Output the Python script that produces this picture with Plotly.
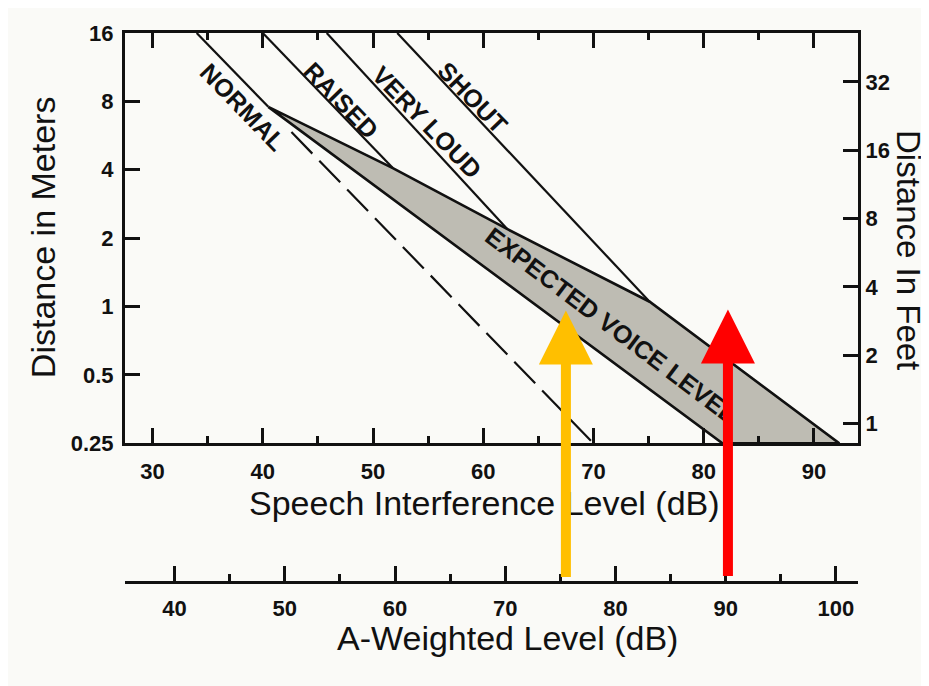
import math
import plotly.graph_objects as go

# ---------------- data ----------------
sil_ticks = [30, 40, 50, 60, 70, 80, 90]
sil_minor = [35, 45, 55, 65, 75, 85]
a_ticks = [40, 50, 60, 70, 80, 90, 100]
a_minor = [45, 55, 65, 75, 85, 95]
meter_ticks = [0.25, 0.5, 1, 2, 4, 8, 16]
meter_labels = ["0.25", "0.5", "1", "2", "4", "8", "16"]
feet_ticks = [1, 2, 4, 8, 16, 32]

effort_names = ["NORMAL", "RAISED", "VERY LOUD", "SHOUT"]
effort_sil_top = [34.0, 40.0, 45.8, 52.2]      # SIL where line leaves 16 m
effort_sil_end = [40.5, 51.8, 62.2, 75.1]      # SIL where line meets the band
effort_dist_end = [7.57, 4.07, 2.19, 1.05]     # distance (m) where line meets band
effort_label_sil = [38.2, 47.1, 54.9, 59.1]
effort_label_dist = [7.55, 8.1, 6.5, 8.3]

normal_dash_sil = [42.6, 70.0]
normal_dash_dist = [5.86, 0.25]

band_sil = [40.5, 51.8, 62.2, 75.1, 92.3, 81.7, 40.5]
band_dist = [7.57, 4.07, 2.19, 1.05, 0.25, 0.25, 7.57]
band_label = "EXPECTED VOICE LEVEL"
band_label_sil = 71.6
band_label_dist = 0.83

arrow_a_level = [75.5, 90.2]
arrow_tip_dist = [0.96, 0.97]
arrow_colors = ["#FFBF00", "#FF0000"]

A_MINUS_SIL = 8.0
SIL_RANGE = [27.5, 94.0]
DIST_RANGE = [0.25, 16.0]
M_PER_FT = 0.3048

# ---------------- styling ----------------
FONT = "Liberation Sans, Arial, Helvetica, sans-serif"
BG = "#FAFAF7"
BAND_FILL = "#BEBCB3"
INK = "#111111"

fig = go.Figure()

# expected voice level band
fig.add_trace(go.Scatter(
    x=band_sil, y=band_dist, mode="lines", fill="toself",
    fillcolor=BAND_FILL, line=dict(color=INK, width=2.6),
    hoverinfo="skip", showlegend=False))

# vocal effort lines
for s0, s1, d1 in zip(effort_sil_top, effort_sil_end, effort_dist_end):
    fig.add_trace(go.Scatter(
        x=[s0, s1], y=[DIST_RANGE[1], d1], mode="lines",
        line=dict(color=INK, width=2.2), hoverinfo="skip", showlegend=False))

# dashed continuation of NORMAL
fig.add_trace(go.Scatter(
    x=normal_dash_sil, y=normal_dash_dist, mode="lines",
    line=dict(color=INK, width=2.2, dash="30px,10px"),
    hoverinfo="skip", showlegend=False))

# helper traces so the secondary axes are drawn
fig.add_trace(go.Scatter(
    x=arrow_a_level, y=arrow_tip_dist, xaxis="x2", yaxis="y", mode="markers",
    marker=dict(opacity=0), hoverinfo="skip", showlegend=False))
fig.add_trace(go.Scatter(
    x=[SIL_RANGE[0]], y=[feet_ticks[0]], xaxis="x", yaxis="y2", mode="markers",
    marker=dict(opacity=0), hoverinfo="skip", showlegend=False))

annotations = []
# effort labels
for name, s, d in zip(effort_names, effort_label_sil, effort_label_dist):
    annotations.append(dict(
        x=s, y=math.log10(d), xref="x", yref="y", text=name, showarrow=False,
        textangle=46, font=dict(family=FONT, size=25, color=INK, weight="bold"),
        xanchor="center", yanchor="middle"))
# band label
annotations.append(dict(
    x=band_label_sil, y=math.log10(band_label_dist), xref="x", yref="y",
    text=band_label, showarrow=False, textangle=37,
    font=dict(family=FONT, size=25, color=INK, weight="bold"),
    xanchor="center", yanchor="middle"))

# axis titles
title_font = dict(family=FONT, size=34, color=INK)
annotations += [
    dict(x=-0.112, y=0.628, xref="paper", yref="paper", text="Distance in Meters",
         textangle=-90, showarrow=False, font=title_font, xanchor="center", yanchor="middle"),
    dict(x=1.068, y=0.605, xref="paper", yref="paper", text="Distance In Feet",
         textangle=90, showarrow=False, font=dict(family=FONT, size=33, color=INK),
         xanchor="center", yanchor="middle"),
    dict(x=0.491, y=0.144, xref="paper", yref="paper", text="Speech Interference Level (dB)",
         showarrow=False, font=title_font, xanchor="center", yanchor="middle"),
    dict(x=0.522, y=-0.102, xref="paper", yref="paper", text="A-Weighted Level (dB)",
         showarrow=False, font=title_font, xanchor="center", yanchor="middle"),
]

# arrows (drawn last, on top)
for a, d, c in zip(arrow_a_level, arrow_tip_dist, arrow_colors):
    annotations.append(dict(
        x=a, y=math.log10(d), xref="x2", yref="y", ax=a, axref="x2",
        ay=268, ayref="pixel", text="", showarrow=True, arrowhead=2,
        arrowwidth=10, arrowsize=1.08, arrowcolor=c, standoff=0))

tick_font = dict(family=FONT, size=22, color=INK, weight="bold")
axis_common = dict(showgrid=False, zeroline=False, showline=True, linewidth=3,
                   linecolor=INK, ticks="inside", ticklen=15, tickwidth=2.5,
                   tickcolor=INK, tickfont=tick_font)

# page body adds an 8 px offset, so the figure is 8 px smaller than the window
fig.update_layout(
    width=921, height=678,
    margin=dict(l=117, r=71, t=25, b=104),
    paper_bgcolor=BG, plot_bgcolor=BG,
    showlegend=False,
    xaxis=dict(range=SIL_RANGE, domain=[0, 1], anchor="y", tickmode="array",
               tickvals=sil_ticks, mirror="ticks", ticklabelstandoff=6,
               minor=dict(tickvals=sil_minor, ticks="inside", ticklen=7,
                          tickwidth=2.5, tickcolor=INK),
               **axis_common),
    xaxis2=dict(range=[SIL_RANGE[0] + A_MINUS_SIL, SIL_RANGE[1] + A_MINUS_SIL],
                overlaying="x", anchor="free", position=0, side="bottom",
                tickmode="array", tickvals=a_ticks, ticklabelstandoff=6,
                minor=dict(tickvals=a_minor, ticks="inside", ticklen=7,
                           tickwidth=2.5, tickcolor=INK),
                **axis_common),
    yaxis=dict(type="log", range=[math.log10(DIST_RANGE[0]), math.log10(DIST_RANGE[1])],
               domain=[0.2526, 1], anchor="x", tickmode="array", ticklabelstandoff=4,
               tickvals=meter_ticks, ticktext=meter_labels, **axis_common),
    yaxis2=dict(type="log",
                range=[math.log10(DIST_RANGE[0] / M_PER_FT), math.log10(DIST_RANGE[1] / M_PER_FT)],
                overlaying="y", side="right", anchor="x", tickmode="array",
                tickvals=feet_ticks, **axis_common),
    annotations=annotations,
)

fig.write_html("out.html")
